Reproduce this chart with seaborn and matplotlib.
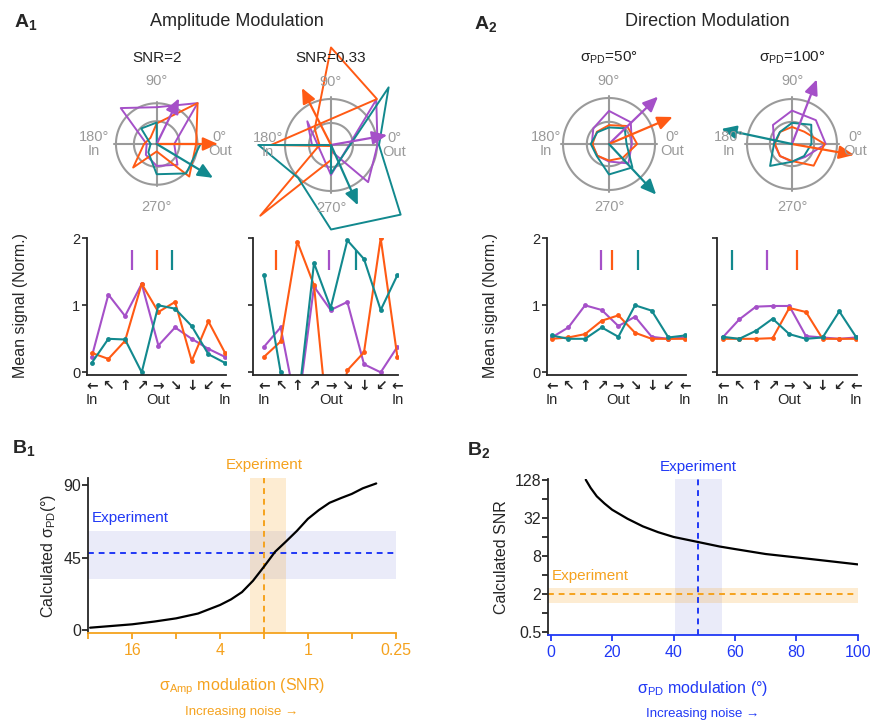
import numpy as np
import matplotlib
matplotlib.use("Agg")
import matplotlib.pyplot as plt
import seaborn as sns

sns.set_style("ticks")
plt.rcParams['font.family'] = ['Liberation Sans', 'DejaVu Sans']
plt.rcParams['mathtext.fontset'] = 'custom'
plt.rcParams['mathtext.rm'] = 'Liberation Sans'
plt.rcParams['mathtext.bf'] = 'Liberation Sans:bold'
plt.rcParams['mathtext.default'] = 'regular'
plt.rcParams['axes.linewidth'] = 1.3

W, H = 874, 726

PURPLE = "#A550C8"
ORANGE = "#FF5A14"
TEAL = "#12898E"
COLORS = [PURPLE, ORANGE, TEAL]
GREY = "#9A9A9A"
EXP_ORANGE = "#F5A21E"
EXP_BLUE = "#2038F5"

# ---------------- data ----------------
dir_angles = [180, 135, 90, 45, 0, -45, -90, -135, -180]
dir_arrows = ["←", "↖", "↑", "↗", "→", "↘", "↓", "↙", "←"]
dir_names = ["In", "", "", "", "Out", "", "", "", "In"]

# A1 amplitude modulation, SNR=2
snr2_purple = [0.23, 1.16, 0.84, 1.32, 0.40, 0.67, 0.50, 0.35, 0.23]
snr2_orange = [0.29, 0.20, 0.47, 1.32, 0.90, 1.05, 0.17, 0.76, 0.29]
snr2_teal = [0.14, 0.50, 0.49, 0.00, 1.00, 0.95, 0.69, 0.27, 0.14]
snr2_pd_pos = [2.44, 3.90, 4.80]
snr2_arrow_deg = [64, 0, -31]
snr2_arrow_len = [1.16, 1.40, 1.50]

# A1 amplitude modulation, SNR=0.33
snr033_purple = [0.38, 0.67, -0.60, 1.28, 0.93, 1.05, 0.12, 0.00, 0.38]
snr033_orange = [0.23, 0.46, 1.95, 1.30, -1.20, 0.03, 0.30, 2.00, 0.23]
snr033_teal = [1.45, 0.00, -0.57, 1.63, 0.96, 1.97, 1.69, 0.93, 1.45]
snr033_pd_pos = [3.88, 0.72, 5.52]
snr033_arrow_deg = [10, 117, -66]
snr033_arrow_len = [1.14, 1.28, 1.32]

# A2 direction modulation, sigma_PD=50
pd50_purple = [0.52, 0.67, 1.00, 0.93, 0.69, 0.83, 0.53, 0.50, 0.52]
pd50_orange = [0.50, 0.52, 0.57, 0.77, 0.85, 0.59, 0.50, 0.50, 0.50]
pd50_teal = [0.55, 0.50, 0.50, 0.67, 0.53, 1.00, 0.92, 0.52, 0.55]
pd50_pd_pos = [2.94, 3.60, 5.20]
pd50_arrow_deg = [44, 23, -47]
pd50_arrow_len = [2.06, 2.09, 2.09]

# A2 direction modulation, sigma_PD=100
pd100_purple = [0.52, 0.79, 0.98, 0.99, 0.99, 0.54, 0.52, 0.50, 0.52]
pd100_orange = [0.50, 0.50, 0.50, 0.51, 0.96, 0.90, 0.50, 0.50, 0.50]
pd100_teal = [0.53, 0.50, 0.62, 0.80, 0.57, 0.50, 0.52, 0.91, 0.53]
pd100_pd_pos = [2.64, 4.48, 0.58]
pd100_arrow_deg = [69, -10, 168]
pd100_arrow_len = [2.03, 1.85, 2.12]

# B1: calculated sigma_PD vs amplitude SNR
b1_snr = [31.1, 22.6, 16, 11.3, 8, 5.66, 4, 3.36, 2.83, 2.38, 2.0, 1.68, 1.41, 1.19,
          1.0, 0.84, 0.71, 0.59, 0.5, 0.42, 0.34]
b1_sigma = [1.4, 2.4, 3.5, 5.2, 7.2, 10.2, 15.5, 19, 23.5, 30.5, 39.3, 48.5, 55, 61.5,
            69, 74.5, 79, 82, 84.5, 88, 91]
b1_exp_sigma = 47.6
b1_exp_sigma_range = [31.7, 61.5]
b1_exp_snr = 2.0
b1_exp_snr_range = [2.5, 1.41]

# B2: calculated SNR vs sigma_PD modulation
b2_sigma = [11.4, 13, 15, 17.5, 20, 25, 30, 35, 40, 48, 55, 60, 70, 80, 90, 100]
b2_snr = [128, 95, 70, 54, 43, 31, 23.5, 19, 16, 13.3, 11.3, 10.3, 8.6, 7.6, 6.7, 5.9]
b2_exp_sigma = 48.1
b2_exp_sigma_range = [40.5, 55.7]
b2_exp_snr = 2.0
b2_exp_snr_range = [1.43, 2.46]

panels = [
    dict(title="SNR=2", series=[snr2_purple, snr2_orange, snr2_teal], pd_pos=snr2_pd_pos,
         arrow_deg=snr2_arrow_deg, arrow_len=snr2_arrow_len),
    dict(title="SNR=0.33", series=[snr033_purple, snr033_orange, snr033_teal], pd_pos=snr033_pd_pos,
         arrow_deg=snr033_arrow_deg, arrow_len=snr033_arrow_len),
    dict(title="σ$_{PD}$=50°", series=[pd50_purple, pd50_orange, pd50_teal], pd_pos=pd50_pd_pos,
         arrow_deg=pd50_arrow_deg, arrow_len=pd50_arrow_len),
    dict(title="σ$_{PD}$=100°", series=[pd100_purple, pd100_orange, pd100_teal], pd_pos=pd100_pd_pos,
         arrow_deg=pd100_arrow_deg, arrow_len=pd100_arrow_len),
]

# layout (pixels): polar centre, polar scale, line-plot box
layout = [
    dict(center=(156.7, 144), rmax=1.05, r_in=0.52, r_out=0.93, box=(86.7, 238.3, 225.9, 375), xmin=-0.3, ylab=True),
    dict(center=(331, 145), rmax=0.92, r_in=0.44, r_out=0.92, box=(253.3, 238.3, 398.2, 375), xmin=-0.64, ylab=False),
    dict(center=(609, 144), rmax=1.39, r_in=0.67, r_out=1.39, box=(546.7, 238.3, 685.9, 375), xmin=-0.3, ylab=True),
    dict(center=(792, 144), rmax=1.35, r_in=0.65, r_out=1.32, box=(717.3, 238.3, 856.8, 375), xmin=-0.32, ylab=False),
]

fig = plt.figure(figsize=(W / 100, H / 100), dpi=100)


def px_axes(l, t, r, b, **kw):
    return fig.add_axes([l / W, 1 - b / H, (r - l) / W, (b - t) / H], **kw)


def draw_polar(ax, p, lay):
    th = np.deg2rad(dir_angles)
    circ = np.linspace(0, 2 * np.pi, 200)
    for rr in (lay["r_in"], lay["r_out"]):
        ax.plot(circ, np.full_like(circ, rr), color=GREY, lw=1.5, clip_on=False, zorder=1)
    ext = lay["r_out"] * 1.04
    ax.plot([0, np.pi], [ext, ext], color=GREY, lw=1.5, clip_on=False, zorder=1)
    ax.plot([np.pi / 2, 3 * np.pi / 2], [ext, ext], color=GREY, lw=1.5, clip_on=False, zorder=1)
    for vals, col in zip(p["series"], COLORS):
        v = np.asarray(vals)
        t = np.where(v < 0, th + np.pi, th)
        ax.plot(t, np.abs(v), color=col, lw=1.4, clip_on=False, zorder=2)
    for col, a, L in zip(COLORS, p["arrow_deg"], p["arrow_len"]):
        ax.annotate("", xy=(np.deg2rad(a), L), xytext=(0, 0),
                    arrowprops=dict(arrowstyle='-|>,head_length=0.9,head_width=0.4', color=col,
                                    lw=1.6, mutation_scale=10, shrinkA=0, shrinkB=0),
                    annotation_clip=False, zorder=3)
    ax.set_ylim(0, lay["rmax"])
    ax.set_axis_off()
    off = 63 / 92
    kw = dict(transform=ax.transAxes, ha='center', va='center', color=GREY, fontsize=10.5, linespacing=0.95)
    ax.text(0.5, 0.5 + off, "90°", **kw)
    ax.text(0.5, 0.5 - off, "270°", **kw)
    ax.text(0.5 - off, 0.5, "180°\nIn", **kw)
    ax.text(0.5 + off, 0.5, "0°\nOut", **kw)


def draw_lines(ax, p, lay):
    x = np.arange(len(dir_angles))
    for vals, col in zip(p["series"], COLORS):
        sns.lineplot(x=x, y=vals, color=col, lw=1.5, marker='o', markersize=3.5,
                     markeredgewidth=0, ax=ax)
    ax.vlines(p["pd_pos"], 1.53, 1.83, colors=COLORS, lw=1.6)
    ax.set_xlim(lay["xmin"], 8.05)
    ax.set_ylim(-0.04, 2)
    ax.set_yticks([0, 1, 2])
    if lay["ylab"]:
        ax.set_yticklabels(["0", "1", "2"], fontsize=10.5)
    else:
        ax.set_yticklabels([])
    ax.tick_params(axis='y', length=3.5, width=1.2, pad=1)
    ax.set_xticks(x)
    ax.set_xticklabels(dir_arrows, fontsize=10, fontweight='bold', family='DejaVu Sans')
    ax.tick_params(axis='x', length=0, pad=3)
    for xi, name in zip(x, dir_names):
        if name:
            ax.annotate(name, xy=(xi, 0), xycoords=('data', 'axes fraction'), xytext=(0, -25),
                        textcoords='offset pixels', ha='center', va='center', fontsize=10.5)
    ax.set_xlabel("")
    ax.set_ylabel("")
    sns.despine(ax=ax)


for p, lay in zip(panels, layout):
    cx, cy = lay["center"]
    pax = px_axes(cx - 46, cy - 46, cx + 46, cy + 46, projection='polar')
    draw_polar(pax, p, lay)
    fig.text(cx / W, 1 - 58 / H, p["title"], ha='center', va='center', fontsize=11, color='#222222')
    lax = px_axes(*lay["box"])
    draw_lines(lax, p, lay)

fig.text(21 / W, 1 - 306 / H, "Mean signal (Norm.)", rotation=90, ha='center', va='center', fontsize=11.5)
fig.text(490 / W, 1 - 306 / H, "Mean signal (Norm.)", rotation=90, ha='center', va='center', fontsize=11.5)

fig.text(237 / W, 1 - 22 / H, "Amplitude Modulation", ha='center', va='center', fontsize=13)
fig.text(707 / W, 1 - 22 / H, "Direction Modulation", ha='center', va='center', fontsize=13)
fig.text(14 / W, 1 - 22 / H, r"$\mathbf{A_1}$", ha='left', va='center', fontsize=14)
fig.text(474 / W, 1 - 24 / H, r"$\mathbf{A_2}$", ha='left', va='center', fontsize=14)
fig.text(12 / W, 1 - 448 / H, r"$\mathbf{B_1}$", ha='left', va='center', fontsize=14)
fig.text(467 / W, 1 - 450 / H, r"$\mathbf{B_2}$", ha='left', va='center', fontsize=14)

# ---------------- B1 ----------------
ax = px_axes(88.3, 478.3, 395.7, 633)
ax.set_xscale('log', base=2)
ax.axhspan(*b1_exp_sigma_range, color="#3344CC", alpha=0.1, lw=0, zorder=0)
ax.axvspan(*b1_exp_snr_range, color=EXP_ORANGE, alpha=0.2, lw=0, zorder=0)
ax.axhline(b1_exp_sigma, color=EXP_BLUE, ls=(0, (3, 2.5)), lw=1.4, zorder=1)
ax.axvline(b1_exp_snr, color=EXP_ORANGE, ls=(0, (3, 2.5)), lw=1.4, zorder=1)
sns.lineplot(x=b1_snr, y=b1_sigma, color='black', lw=1.6, ax=ax, zorder=2)
ax.set_xlim(32, 0.25)
ax.set_ylim(-1.9, 94.2)
ax.set_xticks([32, 16, 8, 4, 2, 1, 0.5, 0.25])
ax.set_xticklabels(["", "16", "", "4", "", "1", "", "0.25"])
ax.minorticks_off()
ax.set_yticks([0, 45, 90])
ax.tick_params(axis='x', colors=EXP_ORANGE, labelsize=11.5, length=4, width=1.3)
ax.tick_params(axis='y', labelsize=11.5, length=4, width=1.3, pad=1)
ax.spines['bottom'].set_color(EXP_ORANGE)
ax.set_xlabel("")
ax.set_ylabel("Calculated σ$_{PD}$(°)", fontsize=11.5, labelpad=4)
ax.text(0.012, 69.5, "Experiment", transform=ax.get_yaxis_transform(), ha='left', va='center',
        color=EXP_BLUE, fontsize=11)
ax.text(b1_exp_snr, 102.4, "Experiment", ha='center', va='center', color=EXP_ORANGE, fontsize=11,
        clip_on=False)
sns.despine(ax=ax)
fig.text(242 / W, 1 - 687 / H, "σ$_{Amp}$ modulation (SNR)", ha='center', va='center',
         color=EXP_ORANGE, fontsize=11.5)
fig.text(242 / W, 1 - 712 / H, "Increasing noise →", ha='center', va='center', color=EXP_ORANGE,
         fontsize=9.5)

# ---------------- B2 ----------------
ax = px_axes(548.3, 479.3, 857.7, 635)
ax.set_yscale('log', base=2)
ax.axvspan(*b2_exp_sigma_range, color="#3344CC", alpha=0.1, lw=0, zorder=0)
ax.axhspan(*b2_exp_snr_range, color=EXP_ORANGE, alpha=0.2, lw=0, zorder=0)
ax.axvline(b2_exp_sigma, color=EXP_BLUE, ls=(0, (3, 2.5)), lw=1.4, zorder=1)
ax.axhline(b2_exp_snr, color=EXP_ORANGE, ls=(0, (3, 2.5)), lw=1.4, zorder=1)
sns.lineplot(x=b2_sigma, y=b2_snr, color='black', lw=1.6, ax=ax, zorder=2)
ax.set_xlim(-0.8, 100)
ax.set_ylim(0.453, 130)
ax.set_xticks([0, 20, 40, 60, 80, 100])
ax.set_yticks([0.5, 2, 8, 32, 128])
ax.set_yticklabels(["0.5", "2", "8", "32", "128"])
ax.set_yticks([1, 4, 16, 64], minor=True)
ax.set_yticklabels([], minor=True)
ax.tick_params(axis='x', colors=EXP_BLUE, labelsize=11.5, length=4, width=1.3)
ax.tick_params(axis='y', which='both', labelsize=11.5, length=4, width=1.3, pad=1)
ax.spines['bottom'].set_color(EXP_BLUE)
ax.set_xlabel("")
ax.set_ylabel("Calculated SNR", fontsize=11.5, labelpad=4)
ax.text(0.3, 3.9, "Experiment", ha='left', va='center', color=EXP_ORANGE, fontsize=11)
ax.text(b2_exp_sigma, 202, "Experiment", ha='center', va='center', color=EXP_BLUE, fontsize=11,
        clip_on=False)
sns.despine(ax=ax)
fig.text(703 / W, 1 - 689 / H, "σ$_{PD}$ modulation (°)", ha='center', va='center',
         color=EXP_BLUE, fontsize=11.5)
fig.text(703 / W, 1 - 714 / H, "Increasing noise →", ha='center', va='center', color=EXP_BLUE,
         fontsize=9.5)

fig.savefig("out.png", dpi=100)
